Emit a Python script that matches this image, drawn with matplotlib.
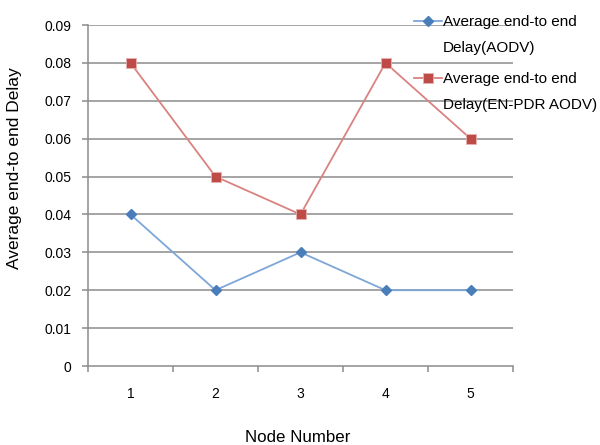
import matplotlib
matplotlib.use("Agg")
import matplotlib.pyplot as plt
from matplotlib.lines import Line2D

plt.rcParams['font.family'] = ['Liberation Sans', 'DejaVu Sans']

nodes = ["1", "2", "3", "4", "5"]
aodv = [0.04, 0.02, 0.03, 0.02, 0.02]
enpdr = [0.08, 0.05, 0.04, 0.08, 0.06]
yticks = [0, 0.01, 0.02, 0.03, 0.04, 0.05, 0.06, 0.07, 0.08, 0.09]
ytick_labels = ["0", "0.01", "0.02", "0.03", "0.04", "0.05", "0.06", "0.07", "0.08", "0.09"]
labels = ["Average end-to end\nDelay(AODV)", "Average end-to end\nDelay(EN-PDR AODV)"]

W, H = 600, 445
fig = plt.figure(figsize=(6.0, 4.45), dpi=100)
ax = fig.add_axes([88/W, 1-366/H, 425/W, 341/H])

x = list(range(len(nodes)))
grid_c = "#8c8c8c"
for yv in yticks[1:]:
    ax.axhline(yv, color=grid_c, lw=1.1, zorder=1)

blue_line, blue_mk = "#7ea6d8", "#4a7ebb"
red_line, red_mk = "#d98280", "#be4b48"

ax.plot(x, aodv, color=blue_line, lw=1.3, zorder=3)
ax.plot(x, aodv, ls="none", marker="D", ms=5.5, color=blue_mk, mec=blue_mk, zorder=4)
ax.plot(x, enpdr, color=red_line, lw=1.3, zorder=3)
ax.plot(x, enpdr, ls="none", marker="s", ms=7, color=red_mk, mec="#e8b0ae", mew=0.6, zorder=4)

ax.set_xlim(-0.5, len(nodes) - 0.5)
ax.set_ylim(0, 0.09)
ax.set_yticks(yticks)
ax.set_yticklabels(ytick_labels, fontsize=10)
ax.set_xticks(x)
ax.set_xticklabels(nodes, fontsize=10)
ax.set_xticks([i - 0.5 for i in range(len(nodes) + 1)], minor=True)
ax.tick_params(axis='x', which='major', length=0, pad=15)
ax.tick_params(axis='x', which='minor', length=4.3, color=grid_c, width=1.1)
ax.tick_params(axis='y', length=4.3, color=grid_c, width=1.1, pad=7.5)

for s in ["top", "right"]:
    ax.spines[s].set_visible(False)
for s in ["left", "bottom"]:
    ax.spines[s].set_color(grid_c)
    ax.spines[s].set_linewidth(1.1)

fig.text(298/W, 1-437/H, "Node Number", fontsize=12.2, ha="center", va="center")
fig.text(15/W, 1-168/H, "Average end-to end Delay", fontsize=12.5, rotation=90,
         ha="center", va="center")

# legend (no frame, overlapping the plot like the reference)
leg_styles = [
    dict(color=blue_line, marker="D", ms=5.5, mfc=blue_mk, mec=blue_mk, mew=1),
    dict(color=red_line, marker="s", ms=7, mfc=red_mk, mec="#e8b0ae", mew=0.6),
]
leg_y = [21, 78]
for lab, st, y0 in zip(labels, leg_styles, leg_y):
    yf = 1 - y0/H
    fig.add_artist(Line2D([414/W, 442/W], [yf, yf], color=st["color"], lw=1.3))
    fig.add_artist(Line2D([428/W], [yf], ls="none", marker=st["marker"], ms=st["ms"],
                          mfc=st["mfc"], mec=st["mec"], mew=st["mew"]))
    for k, line in enumerate(lab.split("\n")):
        fig.text(443/W, 1-(y0 + 1 + k*26)/H, line, fontsize=11, ha="left", va="center")

fig.savefig("out.png", dpi=100)
